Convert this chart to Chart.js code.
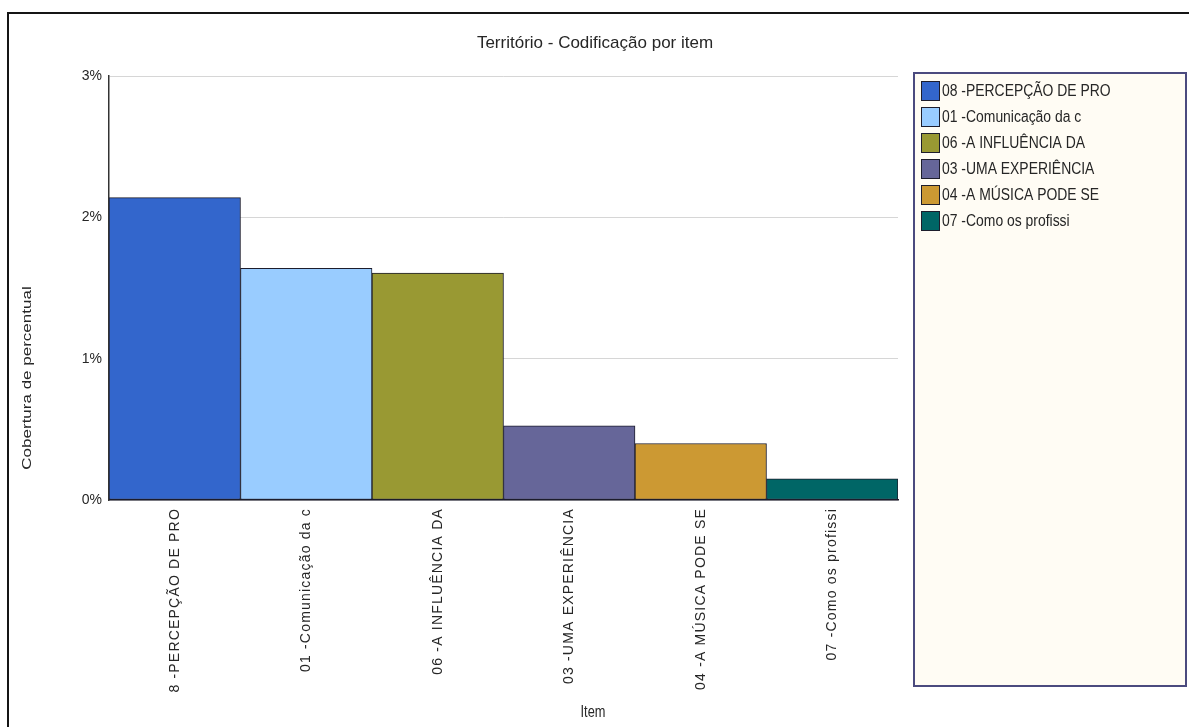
<!DOCTYPE html>
<html>
<head>
<meta charset="utf-8">
<script src="https://cdn.jsdelivr.net/npm/chart.js@4/dist/chart.umd.min.js"></script>
<style>
  html, body { margin: 0; padding: 0; background: #fff; }
  canvas { display: block; }
</style>
</head>
<body>
<canvas id="chart" width="1189" height="727"></canvas>
<script>
// Coverage per coded item (percent of the source)
const chartTitle = 'Território - Codificação por item';
const categories = [
  '8 -PERCEPÇÃO DE PRO',
  '01 -Comunicação da c',
  '06 -A INFLUÊNCIA DA',
  '03 -UMA EXPERIÊNCIA',
  '04 -A MÚSICA PODE SE',
  '07 -Como os profissi'
];
const legendNames = [
  '08 -PERCEPÇÃO DE PRO',
  '01 -Comunicação da c',
  '06 -A INFLUÊNCIA DA',
  '03 -UMA EXPERIÊNCIA',
  '04 -A MÚSICA PODE SE',
  '07 -Como os profissi'
];
const coverage = [2.14, 1.64, 1.605, 0.525, 0.40, 0.15];
const yTickValues = [0, 1, 2, 3];
const xAxisTitle = 'Item';
const yAxisTitle = 'Cobertura de percentual';

const barColors = ['#3366cc', '#99ccff', '#999933', '#666699', '#cc9933', '#006666'];
const textColor = '#262626';
const fontFamily = '"Liberation Sans", Arial, sans-serif';

// Category axis whose rotated labels are drawn slightly letter-spaced
class SpacedCategoryScale extends Chart.CategoryScale {
  drawLabels(area) {
    const ctx = this.ctx;
    ctx.save();
    ctx.letterSpacing = '1.2px';
    super.drawLabels(area);
    ctx.restore();
  }
}
SpacedCategoryScale.id = 'spacedCategory';
SpacedCategoryScale.defaults = Chart.CategoryScale.defaults;
Chart.register(SpacedCategoryScale);

// Horizontally condensed text helper
function condensedText(ctx, text, x, y, font, sx, align) {
  ctx.save();
  ctx.font = font;
  ctx.fillStyle = textColor;
  ctx.textBaseline = 'middle';
  ctx.textAlign = align;
  ctx.translate(x, y);
  ctx.scale(sx, 1);
  ctx.fillText(text, 0, 0);
  ctx.restore();
}

const decorations = {
  id: 'decorations',
  beforeDraw(chart) {
    const ctx = chart.ctx;
    ctx.save();
    ctx.fillStyle = '#ffffff';
    ctx.fillRect(0, 0, chart.width, chart.height);
    // outer frame (top and left edges)
    ctx.strokeStyle = '#151515';
    ctx.lineWidth = 2;
    ctx.beginPath();
    ctx.moveTo(8, chart.height);
    ctx.lineTo(8, 13);
    ctx.lineTo(chart.width, 13);
    ctx.stroke();
    ctx.restore();
  },
  afterDraw(chart) {
    const ctx = chart.ctx;
    // title
    condensedText(ctx, chartTitle, 595, 43, '17px ' + fontFamily, 1.0, 'center');
    // x axis title
    condensedText(ctx, xAxisTitle, 593, 713, '16px ' + fontFamily, 0.8, 'center');
    // y axis title, rotated
    ctx.save();
    ctx.font = '17px ' + fontFamily;
    ctx.fillStyle = textColor;
    ctx.textAlign = 'center';
    ctx.textBaseline = 'middle';
    ctx.translate(27, 378);
    ctx.rotate(-Math.PI / 2);
    ctx.scale(1, 0.78);
    ctx.fillText(yAxisTitle, 0, 0);
    ctx.restore();

    // legend box
    const bx = 914, by = 73, bw = 272, bh = 613;
    ctx.save();
    ctx.fillStyle = '#fffcf4';
    ctx.fillRect(bx, by, bw, bh);
    ctx.strokeStyle = '#4b4a7e';
    ctx.lineWidth = 2;
    ctx.strokeRect(bx, by, bw, bh);
    const meta = chart.getDatasetMeta(0);
    legendNames.forEach((name, i) => {
      const cy = 91 + i * 26;
      const color = meta.data[i] ? meta.data[i].options.backgroundColor : barColors[i];
      ctx.fillStyle = color;
      ctx.fillRect(921, cy - 10, 19, 20);
      ctx.strokeStyle = '#1d1d2c';
      ctx.lineWidth = 1;
      ctx.strokeRect(921.5, cy - 9.5, 18, 19);
      condensedText(ctx, name, 942, cy + 1, '16px ' + fontFamily, 0.87, 'left');
    });
    ctx.restore();
  }
};

new Chart(document.getElementById('chart'), {
  type: 'bar',
  data: {
    labels: categories,
    datasets: [{
      label: 'Cobertura',
      data: coverage,
      backgroundColor: barColors,
      borderColor: '#1d1d2c',
      borderWidth: 1,
      borderSkipped: false,
      categoryPercentage: 1,
      barPercentage: 1
    }]
  },
  options: {
    responsive: false,
    devicePixelRatio: 1,
    animation: false,
    layout: { padding: { top: 76, right: 291, bottom: 0, left: 0 } },
    plugins: {
      legend: { display: false },
      title: { display: false },
      tooltip: { enabled: false }
    },
    scales: {
      x: {
        type: 'spacedCategory',
        grid: { display: false, drawTicks: false },
        border: { display: true, color: '#1d1d2c', width: 1.5 },
        ticks: {
          autoSkip: false,
          minRotation: 90,
          maxRotation: 90,
          padding: 8,
          color: textColor,
          font: { family: fontFamily, size: 14 }
        },
        afterFit(scale) { scale.height = 227; }
      },
      y: {
        type: 'linear',
        min: 0,
        max: 3,
        grid: { color: '#d6d6d6', lineWidth: 1, drawTicks: false },
        border: { display: true, color: '#333333', width: 1.5 },
        ticks: {
          padding: 7,
          color: textColor,
          font: { family: fontFamily, size: 14 },
          callback: v => v + '%'
        },
        afterBuildTicks(scale) { scale.ticks = yTickValues.map(v => ({ value: v })); },
        afterFit(scale) { scale.width = 109; }
      }
    }
  },
  plugins: [decorations]
});
</script>
</body>
</html>
